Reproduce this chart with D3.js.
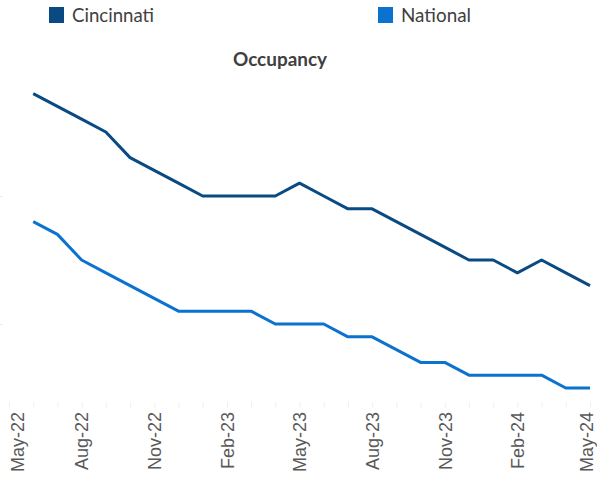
<!DOCTYPE html>
<html>
<head>
<meta charset="utf-8">
<script src="https://cdn.jsdelivr.net/npm/d3@7"></script>
<style>
  html, body { margin: 0; padding: 0; background: #fff; }
  svg { display: block; }
</style>
</head>
<body>
<svg id="chart" width="597" height="480"></svg>
<script>
// ---- data ----
const months = ["May-22","Jun-22","Jul-22","Aug-22","Sep-22","Oct-22","Nov-22","Dec-22","Jan-23",
  "Feb-23","Mar-23","Apr-23","May-23","Jun-23","Jul-23","Aug-23","Sep-23","Oct-23","Nov-23",
  "Dec-23","Jan-24","Feb-24","Mar-24","Apr-24","May-24"];
const dataMonths = months.slice(1);
const cincinnati = [96.8,96.7,96.6,96.5,96.3,96.2,96.1,96.0,96.0,96.0,96.0,96.1,96.0,95.9,95.9,
  95.8,95.7,95.6,95.5,95.5,95.4,95.5,95.4,95.3];
const national = [95.8,95.7,95.5,95.4,95.3,95.2,95.1,95.1,95.1,95.1,95.0,95.0,95.0,94.9,94.9,
  94.8,94.7,94.7,94.6,94.6,94.6,94.6,94.5,94.5];
const tickLabels = ["May-22","Aug-22","Nov-22","Feb-23","May-23","Aug-23","Nov-23","Feb-24","May-24"];
const yTicks = [95, 96];
const seriesNames = ["Cincinnati", "National"];
const colors = ["#0A4A83", "#0B72CF"];
const title = "Occupancy";

const svg = d3.select("#chart");

const x = d3.scalePoint().domain(months).range([9, 590]);
const y = d3.scaleLinear().domain([95, 96]).range([324, 196]);
const axisY = 405;

// faint y ticks (axis labels cropped off)
const yAxis = svg.append("g").attr("transform", "translate(3,0)")
  .call(d3.axisLeft(y).tickValues(yTicks).tickSize(3).tickFormat(""));
yAxis.select(".domain").remove();
yAxis.selectAll("line").attr("stroke", "#eeeeee");

// x axis
const xAxis = svg.append("g").attr("transform", `translate(0,${axisY - 3})`)
  .call(d3.axisBottom(x).tickSize(6).tickFormat(d => tickLabels.includes(d) ? d : ""));
xAxis.select(".domain").remove();
xAxis.selectAll("line").attr("stroke", "#f0f0f0");
xAxis.selectAll("text")
  .attr("transform", function(d) {
    let px = x(d); px = Math.min(Math.max(px, 17), 586);
    return `translate(${px - x(d)},${10}) rotate(-90)`;
  })
  .attr("x", 0).attr("y", 0).attr("dy", "0.35em")
  .attr("text-anchor", "end")
  .attr("fill", "#595959")
  .style("font-family", "'Liberation Sans', Arial, sans-serif")
  .style("font-size", "18px");

// lines
const line = d3.line().x((d, i) => x(dataMonths[i])).y(d => y(d));
[cincinnati, national].forEach((s, k) => {
  svg.append("path").datum(s)
    .attr("fill", "none")
    .attr("stroke", colors[k])
    .attr("stroke-width", 3)
    .attr("stroke-linejoin", "round")
    .attr("d", line);
});

// helper to fit text width
function fit(sel, w) {
  const node = sel.node();
  const len = node.getComputedTextLength();
  const fs = parseFloat(sel.style("font-size"));
  sel.style("font-size", (fs * w / len).toFixed(2) + "px");
}

// legend
const legendX = [49, 378];
const legendTextW = [82, 70];
seriesNames.forEach((n, k) => {
  svg.append("rect").attr("x", legendX[k]).attr("y", 7).attr("width", 15).attr("height", 16)
    .attr("fill", colors[k]);
  const t = svg.append("text").attr("x", legendX[k] + 23).attr("y", 22)
    .attr("fill", "#404040")
    .style("font-family", "Lato, 'Open Sans', sans-serif")
    .style("font-size", "19px")
    .text(n);
  fit(t, legendTextW[k]);
});

// title
const tt = svg.append("text").attr("x", 280).attr("y", 66)
  .attr("text-anchor", "middle")
  .attr("fill", "#404040")
  .style("font-family", "Lato, 'Open Sans', sans-serif")
  .style("font-weight", "bold")
  .style("font-size", "18px")
  .text(title);
fit(tt, 94);
</script>
</body>
</html>
